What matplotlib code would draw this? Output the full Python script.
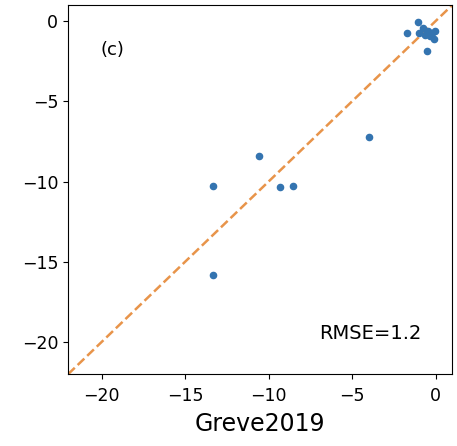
import matplotlib
matplotlib.use("Agg")
import matplotlib.pyplot as plt
import numpy as np

# Greve2019 vs model values
greve = [-13.35, -13.3, -10.55, -9.3, -8.55, -4.0, -1.7, -1.05, -0.5,
         -1.0, -0.75, -0.45, -0.25, -0.1, -0.05, -0.35, -0.65]
model = [-10.25, -15.8, -8.4, -10.35, -10.25, -7.25, -0.75, -0.05, -1.9,
         -0.75, -0.45, -0.65, -0.75, -1.1, -0.6, -0.95, -0.85]
lims = [-22, 1]
rmse_text = "RMSE=1.2"
panel = "(c)"

fig = plt.figure(figsize=(4.57, 4.46), dpi=100)
ax = fig.add_axes([0.149, 0.161, 0.841, 0.828])
ax.scatter(greve, model, s=20, color="#3474b0", zorder=3)
ax.plot(lims, lims, "--", color="#e8944a", lw=1.8)
ax.set_xlim(lims)
ax.set_ylim(lims)
ax.set_xticks([-20, -15, -10, -5, 0])
ax.set_yticks([-20, -15, -10, -5, 0])
ax.tick_params(labelsize=12.5)
ax.tick_params(axis="x", pad=6)
ax.set_xlabel("Greve2019", fontsize=17, labelpad=5)
ax.text(0.085, 0.865, panel, transform=ax.transAxes, fontsize=13)
ax.text(0.652, 0.095, rmse_text, transform=ax.transAxes, fontsize=14)
fig.savefig("out.png", dpi=100)
